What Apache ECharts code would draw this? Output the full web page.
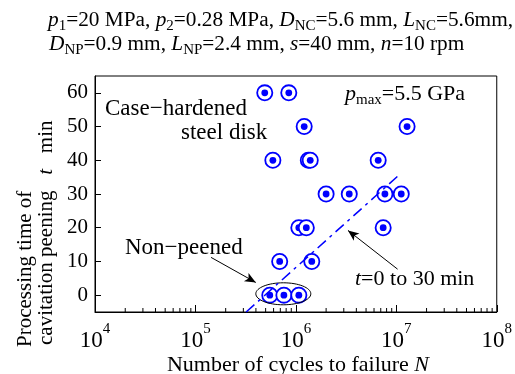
<!DOCTYPE html>
<html><head><meta charset="utf-8">
<script src="https://cdn.jsdelivr.net/npm/echarts@6/dist/echarts.min.js"></script>
<style>html,body{margin:0;padding:0;background:#fff}#c{width:515px;height:374px}</style>
</head><body><div id="c"></div>
<script>
// Processing time t (min) for each specimen and its number of cycles to failure N
const timeMin = [60, 60, 50, 50, 40, 40, 40, 40, 30, 30, 30, 30, 20, 20, 20, 10, 10, 0, 0, 0];
const cyclesN = [4.9e5, 8.5e5, 1.21e6, 1.28e7, 5.9e5, 1.33e6, 1.39e6, 6.6e6, 2.0e6, 3.4e6, 7.7e6, 1.12e7, 1.07e6, 1.27e6, 7.4e6, 6.9e5, 1.44e6, 5.5e5, 7.6e5, 1.07e6];
// Fitted trend line for t = 0 to 30 min (end points)
const fitN = [3.2e5, 1.1e7];
const fitT = [-5, 36];
const yTicks = [0, 10, 20, 30, 40, 50, 60];

const serif = '"Liberation Serif","DejaVu Serif",serif';
const blue = '#0000ff';
const minorVals = [];
for (let d = 4; d < 8; d++) for (let m = 2; m <= 9; m++) minorVals.push([m * Math.pow(10, d), -5]);
const pts = cyclesN.map((n, i) => [n, timeMin[i]]);

const hdrRich = {
  n: {fontFamily: serif, fontSize: 21.3, lineHeight: 26, verticalAlign: 'middle', fill: '#000'},
  i: {fontFamily: serif, fontStyle: 'italic', fontSize: 21.3, lineHeight: 26, verticalAlign: 'middle', fill: '#000'},
  b: {fontFamily: serif, fontSize: 15, lineHeight: 15, verticalAlign: 'bottom', fill: '#000'}
};

const chart = echarts.init(document.getElementById('c'), null, {renderer: 'canvas'});
chart.setOption({
  animation: false,
  backgroundColor: '#fff',
  grid: {left: 95, right: 16, top: 76, bottom: 62, show: true, borderColor: '#000', borderWidth: 1},
  xAxis: {
    type: 'log', logBase: 10, min: 1e4, max: 1e8,
    axisLine: {onZero: false, lineStyle: {color: '#000', width: 1}},
    axisTick: {inside: true, length: 7, lineStyle: {color: '#000'}},
    splitLine: {show: false},
    axisLabel: {
      margin: 10, color: '#000', fontFamily: serif, fontSize: 23,
      formatter: v => '{m|10}{s|' + Math.round(Math.log10(v)) + '}',
      rich: {
        m: {fontFamily: serif, fontSize: 23, lineHeight: 30, verticalAlign: 'bottom', color: '#000'},
        s: {fontFamily: serif, fontSize: 15, lineHeight: 15, verticalAlign: 'top', color: '#000'}
      }
    }
  },
  yAxis: {
    type: 'value', min: -5, max: 65,
    axisLine: {onZero: false, lineStyle: {color: '#000', width: 1}},
    axisTick: {inside: true, length: 6, customValues: yTicks, lineStyle: {color: '#000'}},
    splitLine: {show: false},
    axisLabel: {customValues: yTicks, margin: 7, color: '#000', fontFamily: serif, fontSize: 21}
  },
  graphic: [
    {type: 'text', left: 48, top: 10, silent: true, style: {
      text: '{i|p}{b|1}{n|=20 MPa, }{i|p}{b|2}{n|=0.28 MPa, }{i|D}{b|NC}{n|=5.6 mm, }{i|L}{b|NC}{n|=5.6mm,}',
      rich: hdrRich}},
    {type: 'text', left: 49, top: 34, silent: true, style: {
      text: '{i|D}{b|NP}{n|=0.9 mm, }{i|L}{b|NP}{n|=2.4 mm, }{i|s}{n|=40 mm, }{i|n}{n|=10 rpm}',
      rich: hdrRich}},
    {type: 'text', x: 105, y: 109, silent: true, style: {text: 'Case\u2212hardened', fontFamily: serif, fontSize: 23, fill: '#000', align: 'left', verticalAlign: 'middle'}},
    {type: 'text', x: 181, y: 133, silent: true, style: {text: 'steel disk', fontFamily: serif, fontSize: 23, fill: '#000', align: 'left', verticalAlign: 'middle'}},
    {type: 'text', x: 125, y: 248, silent: true, style: {text: 'Non\u2212peened', fontFamily: serif, fontSize: 23, fill: '#000', align: 'left', verticalAlign: 'middle'}},
    {type: 'text', left: 345, top: 83, silent: true, style: {
      text: '{i|p}{b|max}{n|=5.5 GPa}',
      rich: {
        n: {fontFamily: serif, fontSize: 22, lineHeight: 28, verticalAlign: 'middle', fill: '#000'},
        i: {fontFamily: serif, fontStyle: 'italic', fontSize: 22, lineHeight: 28, verticalAlign: 'middle', fill: '#000'},
        b: {fontFamily: serif, fontSize: 15, lineHeight: 15, verticalAlign: 'bottom', fill: '#000'}
      }}},
    {type: 'text', left: 355, top: 268, silent: true, style: {
      text: '{i|t}{n|=0 to 30 min}',
      rich: {
        n: {fontFamily: serif, fontSize: 22, lineHeight: 28, verticalAlign: 'middle', fill: '#000'},
        i: {fontFamily: serif, fontStyle: 'italic', fontSize: 22, lineHeight: 28, verticalAlign: 'middle', fill: '#000'}
      }}},
    {type: 'text', x: 298, y: 365, silent: true, style: {
      text: '{n|Number of cycles to failure }{i|N}', align: 'center', verticalAlign: 'middle',
      rich: {
        n: {fontFamily: serif, fontSize: 22, fill: '#000'},
        i: {fontFamily: serif, fontStyle: 'italic', fontSize: 22, fill: '#000'}
      }}},
    {type: 'text', x: 25, y: 347, rotation: Math.PI / 2, silent: true, style: {
      text: 'Processing time of', fontFamily: serif, fontSize: 21, fill: '#000', align: 'left', verticalAlign: 'middle'}},
    {type: 'text', x: 46, y: 345, rotation: Math.PI / 2, silent: true, style: {
      text: '{n|cavitation peening   }{i|t}{n|   min}', align: 'left', verticalAlign: 'middle',
      rich: {
        n: {fontFamily: serif, fontSize: 21, fill: '#000'},
        i: {fontFamily: serif, fontStyle: 'italic', fontSize: 21, fill: '#000'}
      }}}
  ],
  series: [
    {
      type: 'custom', name: 'minorTicks', silent: true, clip: false, z: 3,
      data: minorVals,
      renderItem: (params, api) => {
        const p = api.coord([api.value(0), api.value(1)]);
        return {type: 'line', shape: {x1: p[0], y1: p[1], x2: p[0], y2: p[1] - 4}, style: {stroke: '#000', lineWidth: 1}};
      }
    },
    {
      type: 'custom', name: 'specimens', z: 4,
      data: pts,
      renderItem: (params, api) => {
        const p = api.coord([api.value(0), api.value(1)]);
        return {type: 'group', children: [
          {type: 'circle', shape: {cx: p[0], cy: p[1], r: 7.6}, style: {fill: '#fff', stroke: blue, lineWidth: 1.8}},
          {type: 'circle', shape: {cx: p[0], cy: p[1], r: 3.4}, style: {fill: blue}}
        ]};
      }
    },
    {
      type: 'custom', name: 'ellipse', z: 5, silent: true, clip: false,
      data: [[7.5e5, 0.4]],
      renderItem: (params, api) => {
        const p = api.coord([api.value(0), api.value(1)]);
        return {type: 'ellipse', shape: {cx: p[0], cy: p[1], rx: 27.5, ry: 11}, style: {fill: 'none', stroke: '#000', lineWidth: 1}};
      }
    },
    {
      type: 'line', name: 'fit', z: 6, symbol: 'none', silent: true,
      data: fitN.map((n, i) => [n, fitT[i]]),
      lineStyle: {color: blue, width: 1.5, type: [11, 5, 3, 5]},
      markLine: {
        silent: true, symbol: ['none', 'arrow'], symbolSize: [7, 11],
        label: {show: false},
        lineStyle: {color: '#000', width: 1, type: 'solid'},
        data: [
          [{coord: [1.43e5, 11.2]}, {coord: [3.99e5, 3.76]}],
          [{coord: [1.03e7, 7.7]}, {coord: [3.3e6, 19.2]}]
        ]
      }
    }
  ]
});
</script>
</body></html>
